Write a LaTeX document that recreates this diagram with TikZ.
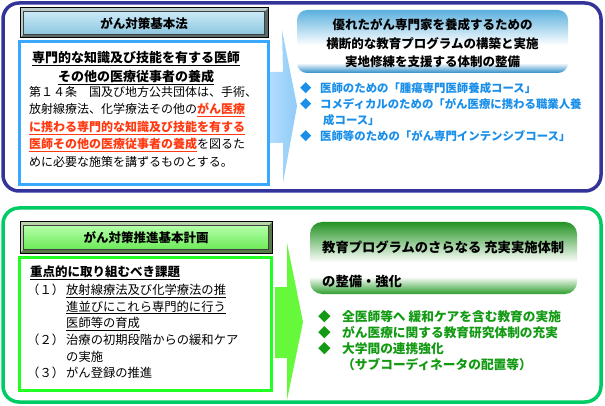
\documentclass[tikz,border=0pt]{standalone}
\usepackage{fontspec}
\setmainfont{Noto Sans CJK JP}
\definecolor{indigoline}{HTML}{333399}
\definecolor{greenline}{HTML}{00CC66}
\definecolor{lblue}{HTML}{3AA8FF}
\definecolor{lgreen}{HTML}{22FF22}
\definecolor{lawred}{HTML}{FF3A12}
\definecolor{bultblue}{HTML}{1A8FEA}
\definecolor{bultgreen}{HTML}{129A12}
\definecolor{hbtop}{HTML}{5BB0DE}
\definecolor{hbbot}{HTML}{2C8DC8}
\definecolor{hgtop}{HTML}{239323}
\definecolor{hgbot}{HTML}{2E9E2E}
\definecolor{arrowblue}{HTML}{8FCBF8}
\definecolor{arrowbluel}{HTML}{B2DCFC}
\definecolor{arrowgreen}{HTML}{66F83A}
\definecolor{bevB}{HTML}{7F9494}
\definecolor{bevBhi}{HTML}{BCCCCC}
\definecolor{bevBlo}{HTML}{5A6A6A}
\definecolor{titBtop}{HTML}{CBEAF6}
\definecolor{titBbot}{HTML}{8CC6E0}
\definecolor{bevG}{HTML}{7C9C6A}
\definecolor{bevGhi}{HTML}{B8D4A8}
\definecolor{bevGlo}{HTML}{587848}
\definecolor{titGtop}{HTML}{B4FFA8}
\definecolor{titGbot}{HTML}{6CEA58}
\pgfdeclareverticalshading{bluehdr}{100bp}{color(0bp)=(hbbot); color(25bp)=(hbbot); color(33bp)=(white); color(47bp)=(white); color(75bp)=(hbtop); color(100bp)=(hbtop)}
\pgfdeclareverticalshading{greenhdr}{100bp}{color(0bp)=(hgbot); color(25bp)=(hgbot); color(37bp)=(white); color(47bp)=(white); color(75bp)=(hgtop); color(100bp)=(hgtop)}
\newcommand\redul[1]{\textcolor{lawred}{\bfseries\underline{#1}}}
\tikzset{
  txt/.style={inner sep=0pt, align=left, anchor=base west},
  outerpanel/.style={line width=3.5pt, rounded corners=16pt},
  contentbox/.style={line width=3pt, fill=white},
}
\begin{document}
\begin{tikzpicture}[x=1pt,y=-1pt]
\useasboundingbox (0,0) rectangle (605,406);
\fill[white] (0,0) rectangle (605,406);

% ---------- top panel ----------
\draw[indigoline, outerpanel] (3,3) rectangle (601,191);

% title box (bevel)
\fill[bevBlo] (20,8) rectangle (268,38);
\fill[bevBhi] (20,8) -- (268,8) -- (264.5,11.5) -- (23.5,11.5) -- (23.5,34.5) -- (20,38) -- cycle;
\shade[top color=titBtop, bottom color=titBbot] (23.5,11.5) rectangle (264.5,34.5);
\draw[black!75, line width=0.6pt] (23.5,11.5) rectangle (264.5,34.5);
\draw[black, line width=1pt] (20,8) rectangle (268,38);
\node[font=\bfseries\fontsize{12.5}{15}\selectfont, inner sep=0pt] (lawtitle) at (144,23.5) {がん対策基本法};

% content box
\draw[lblue, contentbox] (19,42) rectangle (268,185);
\node[inner sep=0pt, align=center, anchor=base, font=\bfseries\fontsize{13}{18.4}\selectfont] (dutyhead) at (136,81.3)
  {\underline{専門的な知識及び技能を有する医師}\\\underline{その他の医療従事者の養成}};
\node[txt, font=\fontsize{12}{17.5}\selectfont] (art14) at (29,166.3)
  {第１４条　国及び地方公共団体は、手術、\\
   放射線療法、化学療法その他の\redul{がん医療}\\
   \redul{に携わる専門的な知識及び技能を有する}\\
   \redul{医師その他の医療従事者の養成}を図るた\\
   めに必要な施策を講ずるものとする。};

% arrow
\shade[left color=arrowbluel, right color=arrowblue] (270,72) -- (283,72) -- (282,30) -- (297,106) -- (283,183) -- (283,143) -- (270,143) -- cycle;

% right header
\shade[shading=bluehdr, rounded corners=10pt] (297,10) rectangle (568,73);
\node[inner sep=0pt, align=center, anchor=base, font=\bfseries\fontsize{12.5}{18.5}\selectfont] (goaltext) at (432.5,66.6)
  {優れたがん専門家を養成するための\\横断的な教育プログラムの構築と実施\\実地修練を支援する体制の整備};

\node[txt, text=bultblue, font=\bfseries\fontsize{11.4}{16.1}\selectfont] (courses) at (300,141)
  {\makebox[20pt][l]{◆}医師のための「腫瘍専門医師養成コース」\\
   \makebox[20pt][l]{◆}コメディカルのための「がん医療に携わる職業人養\\
   \hspace*{23pt}成コース」\\
   \makebox[20pt][l]{◆}医師等のための「がん専門インテンシブコース」};

% ---------- bottom panel ----------
\draw[greenline, outerpanel] (3,208) rectangle (601,402);

\fill[bevGlo] (20,222) rectangle (272,253);
\fill[bevGhi] (20,222) -- (272,222) -- (268.5,225.5) -- (23.5,225.5) -- (23.5,249.5) -- (20,253) -- cycle;
\shade[top color=titGtop, bottom color=titGbot] (23.5,225.5) rectangle (268.5,249.5);
\draw[black!75, line width=0.6pt] (23.5,225.5) rectangle (268.5,249.5);
\draw[black, line width=1pt] (20,222) rectangle (272,253);
\node[font=\bfseries\fontsize{12.5}{15}\selectfont, inner sep=0pt] (plantitle) at (146,237.5) {がん対策推進基本計画};

\draw[lgreen, contentbox] (19,257) rectangle (271,390);
\node[txt, font=\bfseries\fontsize{12.5}{15}\selectfont] (taskhead) at (30,276.6)
  {\underline{重点的に取り組むべき課題}};
\node[txt, font=\fontsize{12.3}{16.6}\selectfont] (tasks) at (27,377.6)
  {\makebox[39pt][l]{（１）}\underline{放射線療法及び化学療法の推}\\
   \hspace*{39pt}\underline{進並びにこれら専門的に行う}\\
   \hspace*{39pt}\underline{医師等の育成}\\
   \makebox[39pt][l]{（２）}治療の初期段階からの緩和ケア\\
   \hspace*{39pt}の実施\\
   \makebox[39pt][l]{（３）}がん登録の推進};

\fill[arrowgreen] (275,287) -- (287,287) -- (287,243) -- (303,322) -- (287,400) -- (287,358) -- (275,358) -- cycle;

\shade[shading=greenhdr, rounded corners=12pt] (310,222) rectangle (577,294);
\node[txt, font=\bfseries\fontsize{13.3}{34}\selectfont] (enhance) at (322,286.6)
  {教育プログラムのさらなる 充実実施体制\\の整備・強化};

\node[txt, text=bultgreen, font=\bfseries\fontsize{12.7}{16}\selectfont] (measures) at (318,369.6)
  {\makebox[24pt][l]{◆}全医師等へ 緩和ケアを含む教育の実施\\
   \makebox[24pt][l]{◆}がん医療に関する教育研究体制の充実\\
   \makebox[24pt][l]{◆}大学間の連携強化\\
   \hspace*{24pt}（サブコーディネータの配置等）};
\end{tikzpicture}
\end{document}
